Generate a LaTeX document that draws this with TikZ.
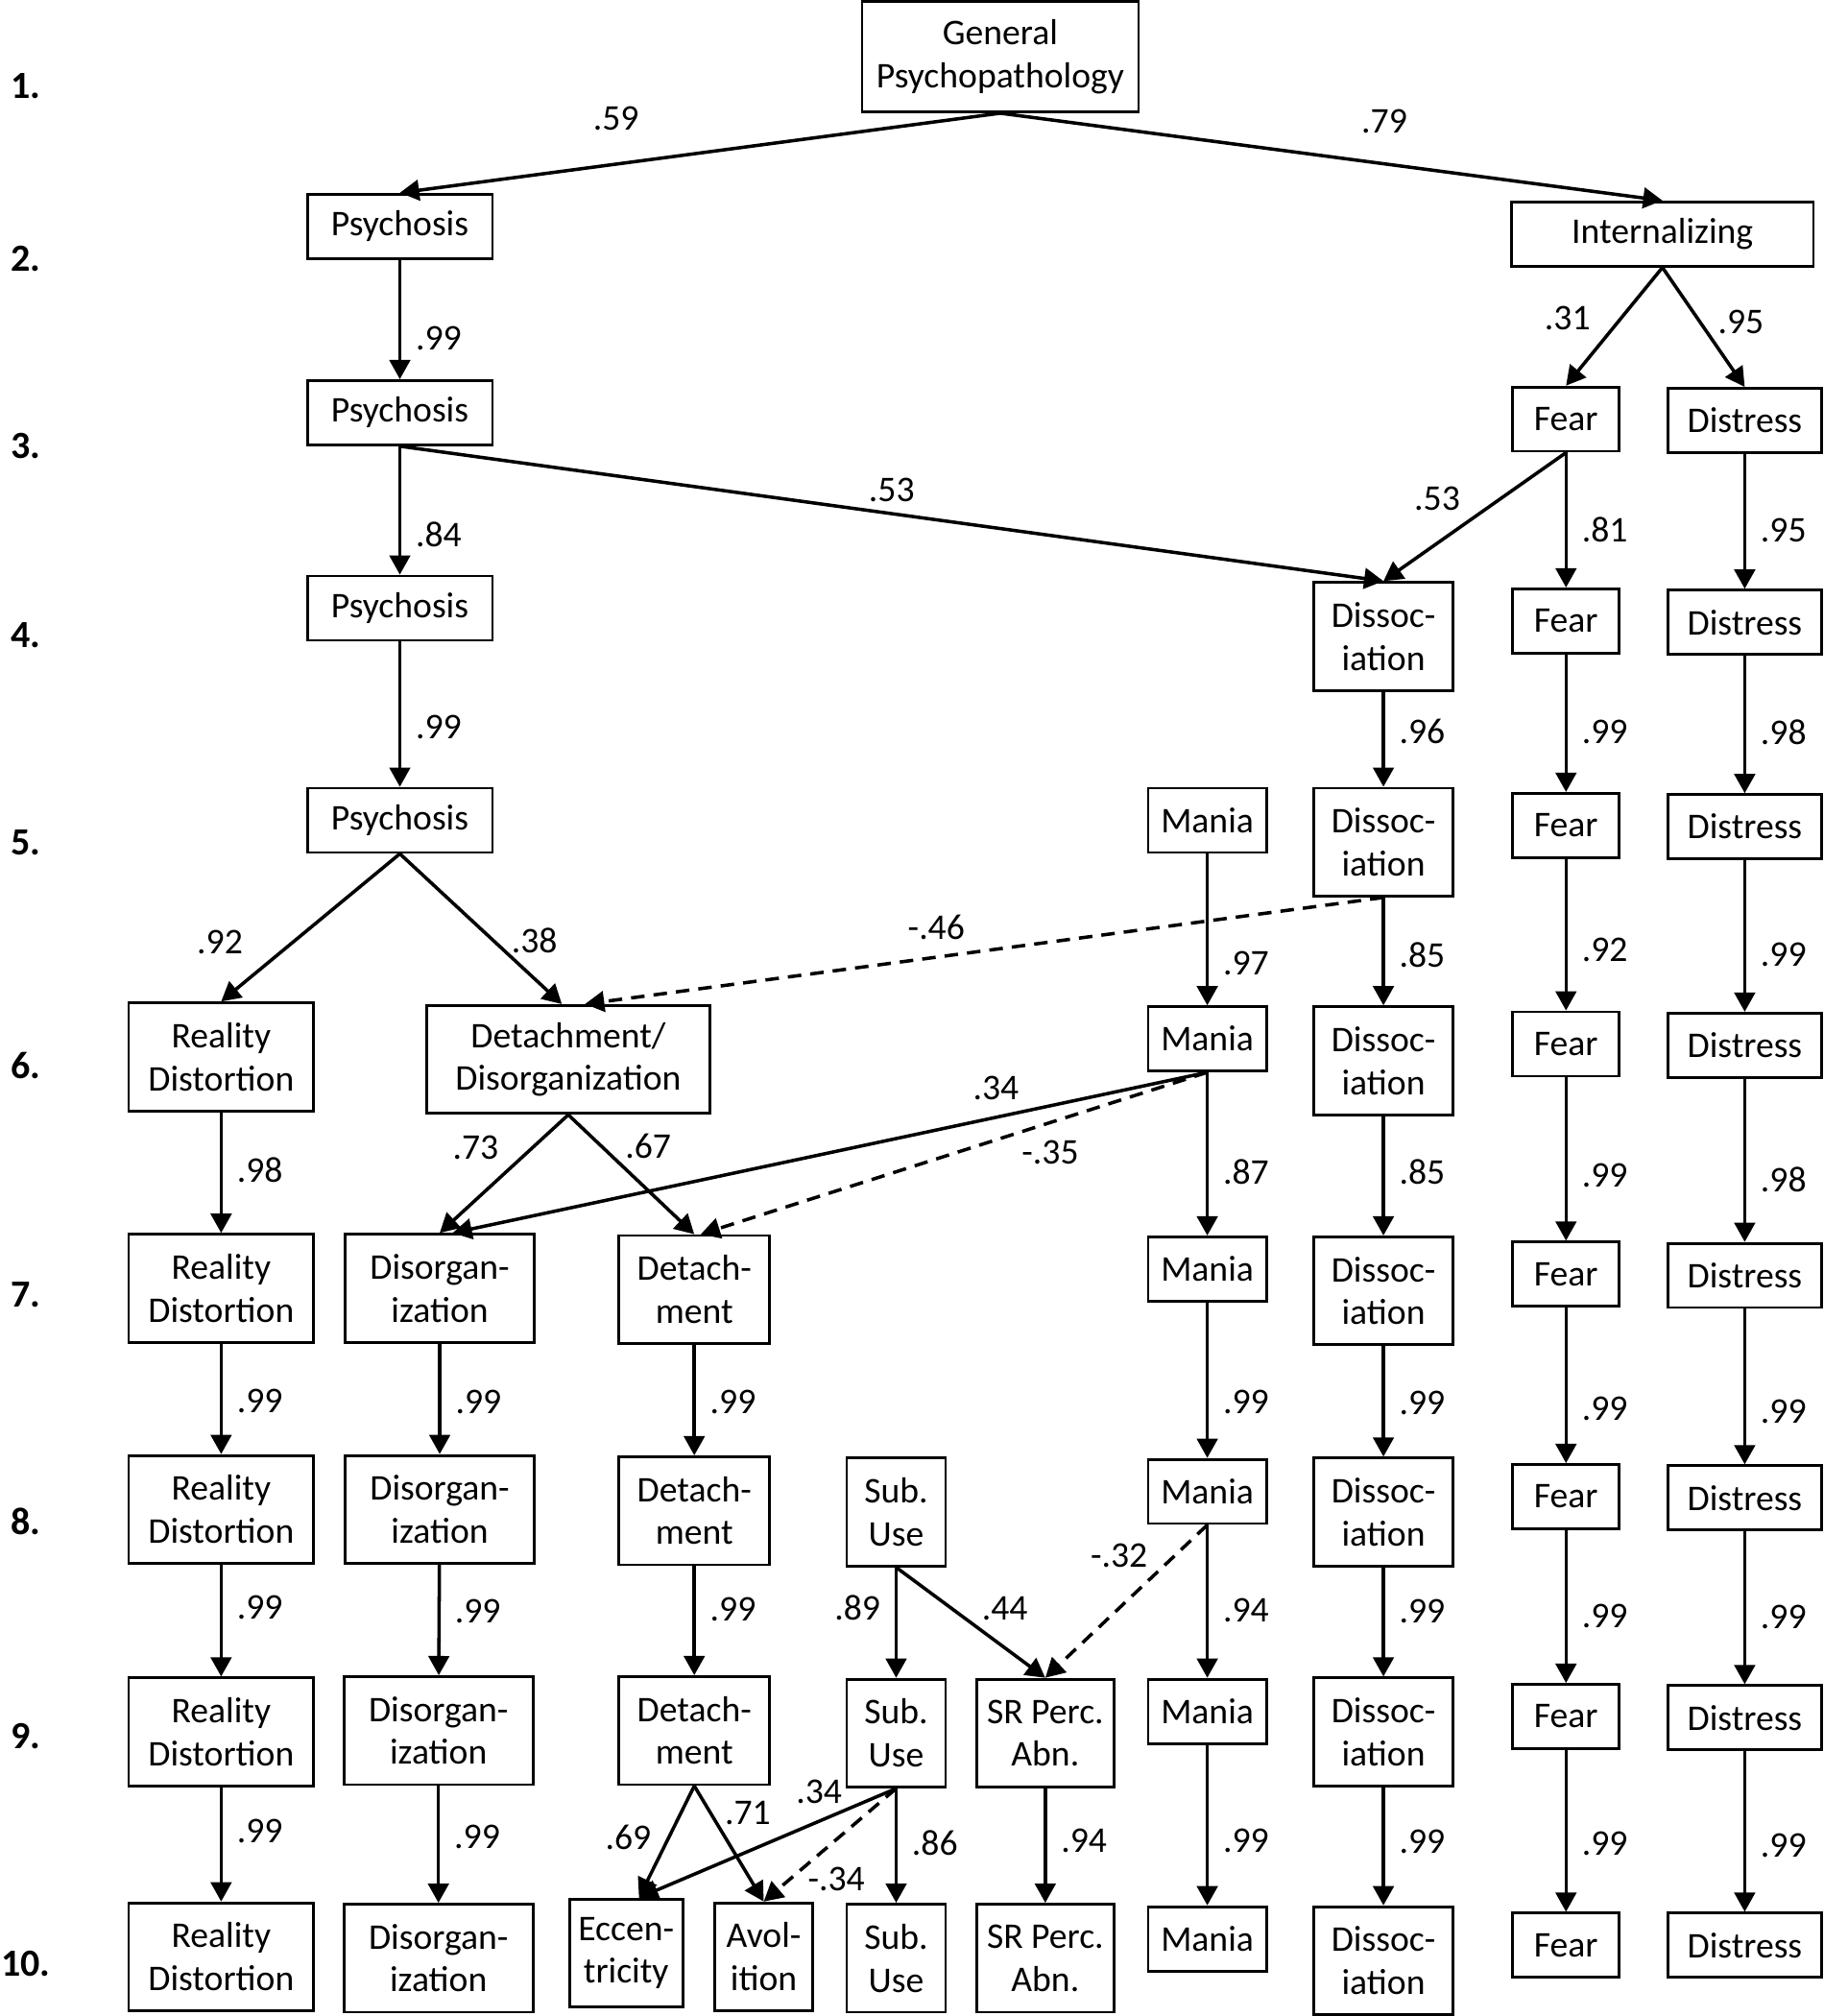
\documentclass[tikz,border=0pt]{standalone}
\usepackage{fontspec}
\setmainfont{Carlito}
\usetikzlibrary{arrows.meta}

\tikzset{
  box/.style={draw, line width=1.2pt, align=center, inner sep=0pt,
    minimum height=1cm, font=\fontsize{16}{19}\selectfont},
  tall/.style={box, minimum height=1.68cm},
  psybox/.style={box, minimum width=2.88cm},
  intbox/.style={box, minimum width=4.7cm},
  fearbox/.style={box, minimum width=1.66cm},
  distbox/.style={box, minimum width=2.38cm},
  maniabox/.style={box, minimum width=1.84cm},
  dissbox/.style={tall, minimum width=2.16cm},
  rdbox/.style={tall, minimum width=2.88cm},
  disorgbox/.style={tall, minimum width=2.94cm},
  detbox/.style={tall, minimum width=2.34cm},
  subbox/.style={tall, minimum width=1.54cm},
  srpbox/.style={tall, minimum width=2.14cm},
  lab/.style={inner sep=0pt, font=\fontsize{16}{19}\selectfont},
  vlab/.style={lab, right=0.22cm},
  link/.style={->, line width=1.5pt},
  neg/.style={link, dash pattern=on 6pt off 4pt},
  rowlab/.style={font=\fontsize{17}{20}\selectfont\bfseries}
}

\begin{document}
\begin{tikzpicture}[x=0.02cm, y=-0.02cm, >={Triangle[length=0.3cm, width=0.32cm]}]
    \useasboundingbox (0,0) rectangle (1418,1568);

    % Row numbers
    \node[rowlab] (r1) at (20,67) {1.};
    \node[rowlab] (r2) at (20,201) {2.};
    \node[rowlab] (r3) at (20,347) {3.};
    \node[rowlab] (r4) at (20,494) {4.};
    \node[rowlab] (r5) at (20,655) {5.};
    \node[rowlab] (r6) at (20,829) {6.};
    \node[rowlab] (r7) at (20,1007) {7.};
    \node[rowlab] (r8) at (20,1183) {8.};
    \node[rowlab] (r9) at (20,1350) {9.};
    \node[rowlab] (r10) at (20,1527) {10.};

    % Top levels
    \node[tall, minimum width=4.3cm, minimum height=1.72cm] (gp) at (778,44) {General\\Psychopathology};
    \node[psybox] (psyA) at (311,176) {Psychosis};
    \node[intbox] (intA) at (1293,182) {Internalizing};
    \node[psybox] (psyB) at (311,321) {Psychosis};
    \node[fearbox] (fearA) at (1218,326) {Fear};
    \node[distbox] (distA) at (1357,327) {Distress};
    \node[psybox] (psyC) at (311,473) {Psychosis};
    \node[dissbox] (dissA) at (1076,495) {Dissoc-\\iation};
    \node[fearbox] (fearB) at (1218,483) {Fear};
    \node[distbox] (distB) at (1357,484) {Distress};
    \node[psybox] (psyD) at (311,638) {Psychosis};
    \node[maniabox] (maniaA) at (939,638) {Mania};
    \node[dissbox] (dissB) at (1076,655) {Dissoc-\\iation};
    \node[fearbox] (fearC) at (1218,642) {Fear};
    \node[distbox] (distC) at (1357,643) {Distress};

    % Level 6
    \node[rdbox] (rdA) at (172,822) {Reality\\Distortion};
    \node[tall, minimum width=4.4cm] (dd) at (442,824) {Detachment/\\Disorganization};
    \node[maniabox] (maniaB) at (939,808) {Mania};
    \node[dissbox] (dissC) at (1076,825) {Dissoc-\\iation};
    \node[fearbox] (fearD) at (1218,812) {Fear};
    \node[distbox] (distD) at (1357,813) {Distress};

    % Level 7
    \node[rdbox] (rdB) at (172,1002) {Reality\\Distortion};
    \node[disorgbox] (disorgA) at (342,1002) {Disorgan-\\ization};
    \node[detbox] (detA) at (540,1003) {Detach-\\ment};
    \node[maniabox] (maniaC) at (939,987) {Mania};
    \node[dissbox] (dissD) at (1076,1004) {Dissoc-\\iation};
    \node[fearbox] (fearE) at (1218,991) {Fear};
    \node[distbox] (distE) at (1357,992) {Distress};

    % Level 8
    \node[rdbox] (rdC) at (172,1174) {Reality\\Distortion};
    \node[disorgbox] (disorgB) at (342,1174) {Disorgan-\\ization};
    \node[detbox] (detB) at (540,1175) {Detach-\\ment};
    \node[subbox] (subA) at (697,1176) {Sub.\\Use};
    \node[maniabox] (maniaD) at (939,1160) {Mania};
    \node[dissbox] (dissE) at (1076,1176) {Dissoc-\\iation};
    \node[fearbox] (fearF) at (1218,1164) {Fear};
    \node[distbox] (distF) at (1357,1165) {Distress};

    % Level 9
    \node[rdbox] (rdD) at (172,1347) {Reality\\Distortion};
    \node[disorgbox] (disorgC) at (341,1346) {Disorgan-\\ization};
    \node[detbox] (detC) at (540,1346) {Detach-\\ment};
    \node[subbox] (subB) at (697,1348) {Sub.\\Use};
    \node[srpbox] (srpA) at (813,1348) {SR Perc.\\Abn.};
    \node[maniabox] (maniaE) at (939,1331) {Mania};
    \node[dissbox] (dissF) at (1076,1347) {Dissoc-\\iation};
    \node[fearbox] (fearG) at (1218,1335) {Fear};
    \node[distbox] (distG) at (1357,1336) {Distress};

    % Level 10
    \node[rdbox] (rdE) at (172,1522) {Reality\\Distortion};
    \node[disorgbox] (disorgD) at (341,1523) {Disorgan-\\ization};
    \node[tall, minimum width=1.76cm] (ecc) at (487,1519) {Eccen-\\tricity};
    \node[tall, minimum width=1.52cm] (avol) at (594,1522) {Avol-\\ition};
    \node[subbox] (subC) at (697,1523) {Sub.\\Use};
    \node[srpbox] (srpB) at (813,1523) {SR Perc.\\Abn.};
    \node[maniabox] (maniaF) at (939,1508) {Mania};
    \node[dissbox] (dissG) at (1076,1525) {Dissoc-\\iation};
    \node[fearbox] (fearH) at (1218,1513) {Fear};
    \node[distbox] (distH) at (1357,1513) {Distress};

    % Loadings, levels 1-5
    \draw[link] (gp.south) -- node[lab, pos=0.64, above=0.5cm] {.59} (psyA.north);
    \draw[link] (gp.south) -- node[lab, pos=0.58, above=0.45cm] {.79} (intA.north);
    \draw[link] (psyA) -- node[vlab, pos=0.66] {.99} (psyB);
    \draw[link] (intA.south) -- node[lab, pos=0.43, left=0.45cm] {.31} (fearA.north);
    \draw[link] (intA.south) -- node[lab, pos=0.46, right=0.25cm] {.95} (distA.north);
    \draw[link] (psyB) -- node[vlab, pos=0.69] {.84} (psyC);
    \draw[link] (psyB.south) -- node[lab, pos=0.5, above=0.15cm] {.53} (dissA.north);
    \draw[link] (fearA.south) -- node[lab, pos=0.36, left=0.6cm] {.53} (dissA.north);
    \draw[link] (fearA) -- node[vlab, pos=0.57] {.81} (fearB);
    \draw[link] (distA) -- node[vlab, pos=0.57] {.95} (distB);
    \draw[link] (psyC) -- node[vlab, pos=0.59] {.99} (psyD);
    \draw[link] (dissA) -- node[vlab, pos=0.42] {.96} (dissB);
    \draw[link] (fearB) -- node[vlab, pos=0.56] {.99} (fearC);
    \draw[link] (distB) -- node[vlab, pos=0.56] {.98} (distC);

    % Loadings, level 5 to 6
    \draw[link] (psyD.south) -- node[lab, pos=0.6, left=0.75cm] {.92} (rdA.north);
    \draw[link] (psyD.south) -- node[lab, pos=0.58, right=0.25cm] {.38} ([xshift=-0.1cm]dd.north);
    \draw[neg] (dissB.south) -- node[lab, pos=0.56, above=0.25cm] {-.46} ([xshift=0.26cm]dd.north);
    \draw[link] (maniaA) -- node[vlab, pos=0.72] {.97} (maniaB);
    \draw[link] (dissB) -- node[vlab, pos=0.53] {.85} (dissC);
    \draw[link] (fearC) -- node[vlab, pos=0.6] {.92} (fearD);
    \draw[link] (distC) -- node[vlab, pos=0.62] {.99} (distD);

    % Loadings, level 6 to 7
    \draw[link] (rdA) -- node[vlab, pos=0.48] {.98} (rdB);
    \draw[link] (dd.south) -- node[lab, pos=0.28, left=0.5cm] {.73} (disorgA.north);
    \draw[link] (dd.south) -- node[lab, pos=0.26, right=0.35cm] {.67} (detA.north);
    \draw[link] (maniaB.south) -- node[lab, pos=0.28, above=0.25cm] {.34} ([xshift=0.2cm]disorgA.north);
    \draw[neg] (maniaB.south) -- node[lab, pos=0.31, below=0.25cm] {-.35} ([xshift=0.1cm]detA.north);
    \draw[link] (maniaB) -- node[vlab, pos=0.61] {.87} (maniaC);
    \draw[link] (dissC) -- node[vlab, pos=0.47] {.85} (dissD);
    \draw[link] (fearD) -- node[vlab, pos=0.6] {.99} (fearE);
    \draw[link] (distD) -- node[vlab, pos=0.62] {.98} (distE);

    % Loadings, level 7 to 8
    \draw[link] (rdB) -- node[vlab, pos=0.52] {.99} (rdC);
    \draw[link] (disorgA) -- node[vlab, pos=0.53] {.99} (disorgB);
    \draw[link] (detA) -- node[vlab, pos=0.52] {.99} (detB);
    \draw[link] (maniaC) -- node[vlab, pos=0.64] {.99} (maniaD);
    \draw[link] (dissD) -- node[vlab, pos=0.51] {.99} (dissE);
    \draw[link] (fearE) -- node[vlab, pos=0.65] {.99} (fearF);
    \draw[link] (distE) -- node[vlab, pos=0.66] {.99} (distF);

    % Loadings, level 8 to 9
    \draw[link] (rdC) -- node[vlab, pos=0.38] {.99} (rdD);
    \draw[link] (disorgB) -- node[vlab, pos=0.42] {.99} (disorgC);
    \draw[link] (detB) -- node[vlab, pos=0.4] {.99} (detC);
    \draw[link] (subA) -- node[lab, pos=0.37, left=0.22cm] {.89} (subB);
    \draw[link] (subA.south) -- node[lab, pos=0.37, right=0.45cm] {.44} (srpA.north);
    \draw[neg] (maniaD.south) -- node[lab, pos=0.2, left=0.4cm] {-.32} (srpA.north);
    \draw[link] (maniaD) -- node[vlab, pos=0.56] {.94} (maniaE);
    \draw[link] (dissE) -- node[vlab, pos=0.4] {.99} (dissF);
    \draw[link] (fearF) -- node[vlab, pos=0.56] {.99} (fearG);
    \draw[link] (distF) -- node[vlab, pos=0.56] {.99} (distG);

    % Loadings, level 9 to 10
    \draw[link] (rdD) -- node[vlab, pos=0.38] {.99} (rdE);
    \draw[link] (disorgC) -- node[vlab, pos=0.44] {.99} (disorgD);
    \draw[link] (detC.south) -- node[lab, pos=0.46, left=0.25cm] {.69} ([xshift=0.2cm]ecc.north);
    \draw[link] (detC.south) -- node[lab, pos=0.23, right=0.2cm] {.71} (avol.north);
    \draw[link] (subB.south) -- node[lab, pos=0.3, above=0.25cm] {.34} ([xshift=0.2cm]ecc.north);
    \draw[neg] (subB.south) -- node[lab, pos=0.8, right=0.25cm] {-.34} (avol.north);
    \draw[link] (subB) -- node[vlab, pos=0.48] {.86} (subC);
    \draw[link] (srpA) -- node[vlab, pos=0.46] {.94} (srpB);
    \draw[link] (maniaE) -- node[vlab, pos=0.6] {.99} (maniaF);
    \draw[link] (dissF) -- node[vlab, pos=0.46] {.99} (dissG);
    \draw[link] (fearG) -- node[vlab, pos=0.58] {.99} (fearH);
    \draw[link] (distG) -- node[vlab, pos=0.59] {.99} (distH);
\end{tikzpicture}
\end{document}
